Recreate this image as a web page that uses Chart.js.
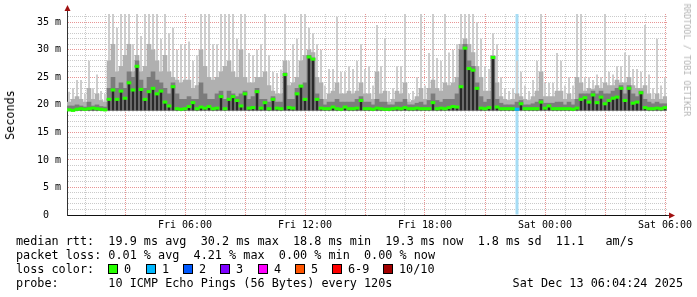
<!DOCTYPE html>
<html>
<head>
<meta charset="utf-8">
<script src="https://cdn.jsdelivr.net/npm/chart.js@4.4.1/dist/chart.umd.min.js"></script>
<style>
  body { margin: 0; background: #fff; }
  #wrap { position: relative; width: 697px; height: 297px; overflow: hidden; font-family: 'DejaVu Sans Mono', monospace; color: #000; }
  #wrap canvas { position: absolute; left: 0; top: 0; }
  .ln { position: absolute; left: 16px; font-size: 11.8px; line-height: 14px; white-space: pre; }
  .box { position: absolute; width: 8px; height: 8px; border: 1px solid #000; }
  .lbl { position: absolute; font-size: 11.8px; line-height: 14px; white-space: pre; }
  #ytitle { position: absolute; left: 10px; top: 115px; font-size: 11.8px; white-space: pre; transform: translate(-50%, -50%) rotate(-90deg); }
  #mark { position: absolute; left: 687px; top: 60px; font-size: 8.5px; color: #b4b4b4; white-space: pre; transform: translate(-50%, -50%) rotate(90deg); }
</style>
</head>
<body>
<div id="wrap">
  <canvas id="grafico" width="697" height="297"></canvas>
  <div id="ytitle">Seconds</div>
  <div id="mark">RRDTOOL / TOBI OETIKER</div>
  <div class="ln" style="top:234px">median rtt:  19.9 ms avg  30.2 ms max  18.8 ms min  19.3 ms now  1.8 ms sd  11.1   am/s</div>
  <div class="ln" style="top:248px">packet loss: 0.01 % avg  4.21 % max  0.00 % min  0.00 % now</div>
  <div class="ln" style="top:262px">loss color:</div>
  <div id="legenda"></div>
  <div class="ln" style="top:276px">probe:       10 ICMP Echo Pings (56 Bytes) every 120s</div>
  <div class="lbl" style="top:276px; right:14px">Sat Dec 13 06:04:24 2025</div>
</div>
<script>
// Dados (ms) - uma coluna a cada 12 min, da esquerda para a direita
const median = [
  19.1, 19.0, 19.2, 19.3, 19.2, 19.3, 19.4, 19.3, 19.2, 19.1,
  21.0, 22.7, 21.0, 22.5, 21.2, 24.0, 22.7, 27.0, 22.8, 21.0,
  22.4, 23.0, 22.0, 22.5, 20.5, 19.8, 23.3, 19.3, 19.2, 19.3,
  19.7, 20.4, 19.3, 19.6, 19.4, 19.7, 19.3, 19.4, 21.5, 19.3,
  21.0, 21.5, 20.8, 19.8, 22.0, 19.4, 19.5, 22.4, 19.4, 20.4,
  19.3, 21.0, 19.4, 19.3, 25.5, 19.5, 19.4, 22.0, 23.4, 21.0,
  28.7, 28.3, 21.0, 19.4, 19.3, 19.3, 19.6, 19.3, 19.2, 19.6,
  19.3, 19.3, 19.4, 20.8, 19.3, 19.3, 19.2, 19.4, 19.3, 19.2,
  19.2, 19.3, 19.4, 19.3, 19.5, 19.3, 19.3, 19.4, 19.3, 19.3,
  19.3, 20.4, 19.3, 19.4, 19.3, 19.5, 19.7, 19.6, 23.3, 30.3,
  26.6, 26.3, 23.0, 19.4, 19.3, 19.5, 28.6, 19.6, 19.3, 19.3,
  19.3, 19.3, 19.2, 20.2, 19.3, 19.3, 19.3, 19.3, 20.5, 19.4,
  19.8, 19.3, 19.3, 19.3, 19.3, 19.3, 19.2, 19.4, 21.0, 21.3,
  20.5, 21.8, 20.4, 21.4, 20.2, 20.8, 21.2, 21.4, 23.0, 20.8,
  23.0, 20.3, 20.5, 22.2, 19.5, 19.3, 19.3, 19.4, 19.3, 19.5
];
const p70 = [
  19.8, 19.8, 20.0, 19.8, 19.6, 20.5, 19.8, 20.0, 19.7, 19.6,
  23.0, 25.0, 23.0, 24.0, 23.0, 26.0, 25.0, 28.0, 24.5, 23.0,
  25.0, 26.0, 24.5, 24.0, 23.0, 22.0, 24.0, 22.0, 21.0, 21.0,
  21.5, 21.0, 21.0, 24.0, 22.0, 21.0, 21.0, 22.0, 22.5, 21.0,
  22.5, 22.0, 21.5, 22.0, 22.5, 21.0, 21.5, 23.0, 21.0, 21.0,
  20.5, 21.5, 20.5, 20.5, 25.8, 21.0, 21.0, 23.0, 23.5, 24.0,
  29.0, 28.5, 22.0, 21.0, 20.0, 20.5, 20.5, 21.0, 20.5, 20.5,
  20.5, 20.5, 21.0, 21.5, 20.5, 20.5, 20.0, 21.0, 20.5, 20.5,
  20.0, 20.0, 20.5, 20.5, 21.0, 20.0, 20.0, 20.3, 20.5, 20.0,
  20.8, 22.0, 20.8, 20.5, 21.0, 21.0, 21.0, 22.0, 30.0, 31.0,
  28.0, 27.0, 24.0, 21.5, 20.5, 21.0, 28.8, 21.0, 20.3, 20.0,
  20.0, 20.0, 20.5, 20.8, 20.0, 20.0, 20.2, 20.5, 21.0, 20.3,
  20.3, 20.3, 20.5, 20.5, 20.0, 20.5, 20.0, 21.0, 22.0, 22.0,
  22.0, 22.5, 22.0, 22.5, 22.0, 22.0, 22.5, 23.0, 23.5, 22.0,
  23.5, 22.0, 21.5, 22.5, 21.0, 20.5, 20.2, 20.5, 20.2, 20.2
];
const p90 = [
  20.5, 21.0, 21.5, 21.0, 20.5, 23.0, 21.0, 22.0, 20.8, 20.5,
  28.0, 31.0, 26.0, 27.0, 29.0, 31.0, 26.0, 29.0, 26.0, 27.0,
  31.0, 30.0, 28.0, 26.0, 29.0, 26.0, 25.0, 24.5, 24.0, 24.5,
  24.5, 23.0, 23.5, 30.0, 27.0, 25.0, 24.5, 25.0, 26.0, 27.0,
  28.0, 26.0, 25.0, 30.0, 25.0, 24.0, 24.0, 25.0, 25.0, 26.0,
  23.5, 22.5, 22.0, 22.0, 28.0, 23.5, 24.0, 25.0, 28.0, 29.0,
  30.0, 29.5, 25.0, 24.0, 21.0, 22.0, 22.5, 24.0, 22.0, 22.0,
  22.5, 22.0, 22.5, 24.0, 22.0, 22.0, 21.0, 26.0, 22.0, 22.5,
  20.5, 21.0, 22.5, 22.0, 24.0, 20.5, 20.8, 21.5, 23.0, 21.0,
  23.0, 24.5, 23.0, 22.5, 24.0, 23.5, 24.0, 25.0, 31.0, 32.0,
  31.0, 29.5, 27.0, 25.0, 22.5, 22.5, 29.0, 24.0, 21.5, 21.0,
  20.8, 21.0, 22.0, 21.5, 21.0, 20.8, 21.5, 22.5, 26.0, 21.5,
  21.5, 21.5, 22.5, 22.5, 21.0, 22.0, 21.0, 25.0, 24.0, 22.5,
  23.0, 22.8, 23.5, 23.0, 24.0, 23.5, 23.5, 24.5, 24.0, 24.0,
  25.0, 23.5, 23.0, 23.0, 23.5, 22.0, 21.0, 22.0, 21.0, 21.5
];
const maxRtt = [
  22.4, 23.0, 24.5, 24.5, 22.0, 28.0, 23.0, 25.5, 22.5, 22.0,
  36.5, 36.5, 34.0, 36.5, 36.5, 36.5, 31.0, 36.5, 32.5, 36.5,
  36.5, 36.5, 36.5, 32.0, 36.5, 33.0, 34.0, 30.0, 31.0, 31.0,
  31.5, 28.0, 29.0, 36.5, 36.5, 36.5, 31.0, 31.0, 36.5, 36.5,
  36.5, 36.5, 32.0, 36.5, 36.5, 29.4, 29.0, 30.0, 31.0, 36.5,
  29.0, 26.0, 25.8, 26.4, 36.5, 28.0, 31.0, 32.0, 36.5, 36.5,
  34.0, 33.0, 31.0, 30.0, 23.5, 26.5, 26.5, 36.0, 26.0, 26.0,
  27.0, 26.5, 28.0, 31.0, 26.5, 27.0, 23.5, 34.5, 27.0, 32.0,
  22.5, 23.0, 27.0, 27.0, 36.5, 22.0, 22.5, 25.0, 36.5, 23.5,
  29.4, 36.5, 28.5, 28.0, 36.5, 29.5, 30.0, 31.0, 36.5, 36.5,
  36.5, 36.5, 35.0, 32.0, 27.0, 26.5, 33.0, 31.0, 25.0, 23.0,
  22.5, 23.0, 28.0, 26.0, 23.5, 22.5, 24.5, 28.0, 36.5, 24.0,
  24.0, 24.0, 29.4, 28.0, 23.5, 25.0, 23.5, 36.5, 36.5, 25.0,
  25.0, 24.5, 25.5, 25.0, 36.5, 26.0, 25.5, 27.0, 27.0, 29.5,
  29.0, 26.5, 26.5, 26.0, 34.5, 25.5, 23.0, 32.0, 23.5, 25.0
];
const lossCols = [112];              // colunas com 1 pacote perdido
const timeTickHours = [6, 12, 18, 24, 30];
const timeTickLabels = ['Fri 06:00', 'Fri 12:00', 'Fri 18:00', 'Sat 00:00', 'Sat 06:00'];
const lossLabels = ['0', '1', '2', '3', '4', '5', '6-9', '10/10'];
const lossColors = ['#26ff00', '#00b8ff', '#0059ff', '#7e00ff', '#ff00ff', '#ff5500', '#ff0000', '#a10000'];

// Escala de tempo (horas desde Fri 00:00)
const START_H = 0.1;
const STEP_H = 0.2;
const SPAN_H = 30;
const Y_MAX = 36.5;
const SMOKE_FLOOR = 19.0;
const SMOKE_LOW = 18.8;

const colTime = median.map((_, i) => START_H + STEP_H * (i + 0.5));
const faixa = (tops, base) => tops.map((v, i) => ({ x: colTime[i], y: [base, v] }));

// Legenda de cores de perda
const legenda = document.getElementById('legenda');
const boxX = [108, 146, 183, 220, 258, 295, 332, 383];
legenda.innerHTML = lossLabels.map((l, i) => `
  <div class="box" style="left:${boxX[i]}px; top:264px; background:${lossColors[i]}"></div>
  <div class="lbl" style="left:${boxX[i] + 16}px; top:262px">${l}</div>`).join('');

const isMult = (v, m) => Math.abs(v / m - Math.round(v / m)) < 1e-6;

// Setas dos eixos
const setas = {
  id: 'setas',
  afterDraw(chart) {
    const { ctx, chartArea: a } = chart;
    const x0 = Math.round(a.left) + 0.5;
    const y0 = Math.round(a.bottom) + 0.5;
    ctx.save();
    ctx.strokeStyle = '#333';
    ctx.lineWidth = 1;
    ctx.beginPath();
    ctx.moveTo(x0, a.top);
    ctx.lineTo(x0, a.top - 5);
    ctx.moveTo(a.right, y0);
    ctx.lineTo(a.right + 4, y0);
    ctx.stroke();
    ctx.fillStyle = '#a01010';
    ctx.beginPath();
    ctx.moveTo(x0, a.top - 9);
    ctx.lineTo(x0 - 3, a.top - 3);
    ctx.lineTo(x0 + 3, a.top - 3);
    ctx.closePath();
    ctx.fill();
    ctx.beginPath();
    ctx.moveTo(a.right + 8, y0);
    ctx.lineTo(a.right + 2, y0 - 3);
    ctx.lineTo(a.right + 2, y0 + 3);
    ctx.closePath();
    ctx.fill();
    ctx.restore();
  }
};

const ctx = document.getElementById('grafico').getContext('2d');
new Chart(ctx, {
  type: 'bar',
  data: {
    datasets: [
      {
        label: 'median',
        data: median.map((m, i) => ({ x: colTime[i], y: [m - 0.22, m + 0.22] })),
        backgroundColor: median.map((_, i) => lossCols.includes(i) ? lossColors[1] : lossColors[0])
      },
      { label: 'core', data: faixa(median, SMOKE_FLOOR), backgroundColor: '#2a2a2a', barPercentage: 0.6 },
      { label: 'p70', data: faixa(p70, SMOKE_FLOOR), backgroundColor: '#7c7c7c' },
      { label: 'p90', data: faixa(p90, SMOKE_FLOOR), backgroundColor: '#b0b0b0' },
      { label: 'max', data: faixa(maxRtt, SMOKE_LOW), backgroundColor: '#cdcdcd', barPercentage: 0.5 },
      {
        label: 'loss',
        data: lossCols.map(i => ({ x: colTime[i], y: [0, Y_MAX] })),
        backgroundColor: '#a6dcf4',
        barPercentage: 0.75
      }
    ]
  },
  options: {
    responsive: false,
    animation: false,
    layout: { padding: { left: 0, top: 14, right: 30, bottom: 62 } },
    plugins: { legend: { display: false }, tooltip: { enabled: false } },
    datasets: { bar: { grouped: false, barPercentage: 1, categoryPercentage: 1, borderWidth: 0 } },
    scales: {
      x: {
        type: 'linear',
        min: START_H,
        max: START_H + SPAN_H,
        offset: false,
        afterFit(s) { s.height = 20; },
        afterBuildTicks(s) {
          const t = [];
          for (let h = 1; h <= 30; h++) t.push({ value: h });
          s.ticks = t;
        },
        grid: {
          drawTicks: false,
          offset: false,
          color: c => isMult(c.tick.value, 3) ? '#e89595' : '#cacaca'
        },
        border: { color: '#111', dash: [1, 1] },
        ticks: {
          autoSkip: false,
          maxRotation: 0,
          padding: 4,
          color: '#000',
          font: { family: 'DejaVu Sans Mono', size: 10 },
          callback: v => {
            const k = timeTickHours.findIndex(h => Math.abs(h - v) < 1e-6);
            return k >= 0 ? timeTickLabels[k] : '';
          }
        }
      },
      y: {
        min: 0,
        max: Y_MAX,
        afterFit(s) { s.width = 67; },
        afterBuildTicks(s) {
          const t = [];
          for (let v = 0; v <= 36; v++) t.push({ value: v });
          s.ticks = t;
        },
        grid: {
          drawTicks: false,
          color: c => isMult(c.tick.value, 5) ? '#e89595' : '#cacaca'
        },
        border: { color: '#333', dash: [1, 1] },
        ticks: {
          autoSkip: false,
          padding: 6,
          color: '#000',
          font: { family: 'DejaVu Sans Mono', size: 10 },
          callback: v => v === 0 ? '0  ' : (isMult(v, 5) ? v + ' m' : '')
        }
      }
    }
  },
  plugins: [setas]
});
</script>
</body>
</html>
